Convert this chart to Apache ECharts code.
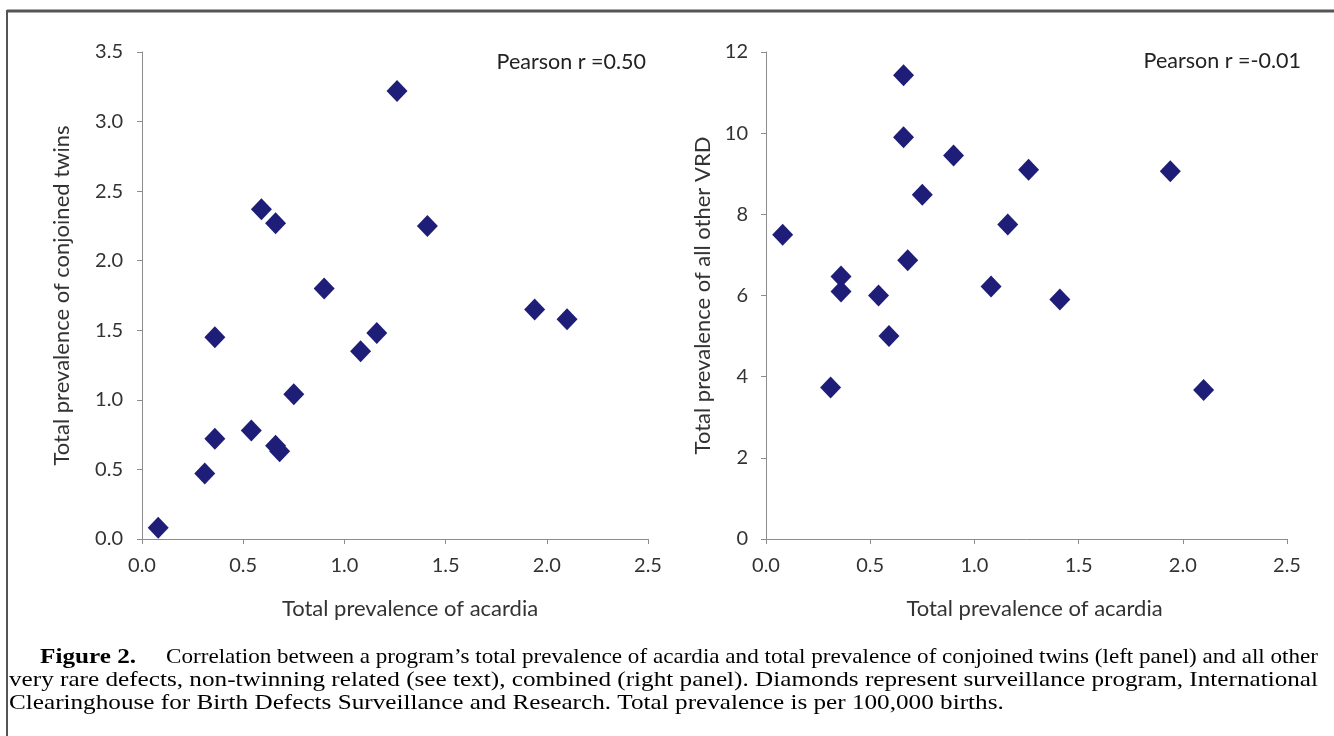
<!DOCTYPE html>
<html><head><meta charset="utf-8">
<script src="https://cdn.jsdelivr.net/npm/echarts@6/dist/echarts.min.js"></script>
<style>html,body{margin:0;padding:0;background:#fff;}#chart{width:1334px;height:736px;}</style>
</head><body><div id="chart"></div>
<script>
// ---- data ----
const acardia        = [0.08, 0.31, 0.36, 0.36, 0.54, 0.59, 0.66, 0.66, 0.68, 0.75, 0.90, 1.08, 1.16, 1.26, 1.41, 1.94, 2.10];
const conjoinedTwins = [0.08, 0.47, 0.72, 1.45, 0.78, 2.37, 2.27, 0.67, 0.63, 1.04, 1.80, 1.35, 1.48, 3.22, 2.25, 1.65, 1.58];
const otherVRD       = [7.50, 3.73, 6.10, 6.47, 6.00, 5.00, 9.90, 11.43, 6.87, 8.48, 9.45, 6.22, 7.75, 9.10, 5.90, 9.06, 3.67];
const xTickLabels      = ['0.0', '0.5', '1.0', '1.5', '2.0', '2.5'];
const yLeftTickLabels  = ['0.0', '0.5', '1.0', '1.5', '2.0', '2.5', '3.0', '3.5'];
const yRightTickLabels = ['0', '2', '4', '6', '8', '10', '12'];
const pearsonLabels = ['Pearson r =0.50', 'Pearson r =-0.01'];
const xAxisTitle = 'Total prevalence of acardia';
const yAxisTitles = ['Total prevalence of conjoined twins', 'Total prevalence of all other VRD'];
const captionBold = 'Figure 2.';
const captionLines = [
  'Correlation between a program\u2019s total prevalence of acardia and total prevalence of conjoined twins (left panel) and all other',
  'very rare defects, non-twinning related (see text), combined (right panel). Diamonds represent surveillance program, International',
  'Clearinghouse for Birth Defects Surveillance and Research. Total prevalence is per 100,000 births.'
];

// ---- helpers ----
const SANS = 'Lato, "Open Sans", sans-serif';
const SERIF = '"Liberation Serif", "Times New Roman", Times, serif';
const mctx = document.createElement('canvas').getContext('2d');
function textW(font, s) { mctx.font = font; return mctx.measureText(s).width; }

const axisColor = '#8c8c8c';
const labelColor = '#333333';
const markColor = '#1e1e78';

function xAxisCfg(gi, namePad) {
  return {
    type: 'value', gridIndex: gi, min: 0, max: 2.5, interval: 0.5,
    name: xAxisTitle, nameLocation: 'middle', nameGap: 59,
    nameTextStyle: { fontFamily: SANS, fontSize: 22, color: labelColor, padding: namePad },
    axisLine: { show: true, onZero: false, lineStyle: { color: axisColor, width: 1 } },
    axisTick: { show: true, inside: false, length: 5, lineStyle: { color: axisColor } },
    axisLabel: { margin: 17, fontFamily: SANS, fontSize: 20, color: labelColor,
      formatter: v => xTickLabels[Math.round(v / 0.5)] },
    splitLine: { show: false }
  };
}
function yAxisCfg(gi, max, interval, labels, name, gap, margin) {
  return {
    type: 'value', gridIndex: gi, min: 0, max: max, interval: interval,
    name: name, nameLocation: 'middle', nameGap: gap,
    nameTextStyle: { fontFamily: SANS, fontSize: 22, color: labelColor },
    axisLine: { show: true, lineStyle: { color: axisColor, width: 1 } },
    axisTick: { show: true, inside: false, length: 5, lineStyle: { color: axisColor } },
    axisLabel: { margin: margin, fontFamily: SANS, fontSize: 20, color: labelColor,
      formatter: v => labels[Math.round(v / interval)] },
    splitLine: { show: false }
  };
}

// ---- caption layout (justified lines) ----
const capSize = 22;
const capFont = capSize + 'px ' + SERIF;
const capBoldFont = 'bold ' + capSize + 'px ' + SERIF;
const capY = [657, 680, 703];
const leftX = 9, rightX = 1318, figX = 40, figGap = 30;
const wBold = textW(capBoldFont, captionBold);
const w0 = textW(capFont, captionLines[0]);
const w1 = textW(capFont, captionLines[1]);
const s1 = (rightX - leftX) / w1;
const sBold = s1;
const line0X = figX + wBold * sBold + figGap;
const s0 = (rightX - line0X) / w0;

function capText(x, y, s, text, font) {
  return { type: 'text', x: x, y: y, scaleX: s,
    style: { text: text, font: font, fill: '#000', textAlign: 'left', textVerticalAlign: 'middle', verticalAlign: 'middle' } };
}
const captionGraphics = [
  capText(figX, capY[0], sBold, captionBold, capBoldFont),
  capText(line0X, capY[0], s0, captionLines[0], capFont),
  capText(leftX, capY[1], s1, captionLines[1], capFont),
  capText(leftX, capY[2], s1, captionLines[2], capFont)
];

const chart = echarts.init(document.getElementById('chart'), null, { renderer: 'canvas' });
chart.setOption({
  backgroundColor: '#fff',
  animation: false,
  grid: [
    { left: 142, top: 52, width: 506, height: 487 },
    { left: 766, top: 52, width: 521, height: 487 }
  ],
  xAxis: [xAxisCfg(0, [0, 0, 0, 30]), xAxisCfg(1, [0, 0, 0, 16])],
  yAxis: [
    yAxisCfg(0, 3.5, 0.5, yLeftTickLabels, yAxisTitles[0], 69, 19),
    yAxisCfg(1, 12, 2, yRightTickLabels, yAxisTitles[1], 52, 18)
  ],
  series: [
    { type: 'scatter', xAxisIndex: 0, yAxisIndex: 0, symbol: 'diamond', symbolSize: [21, 22],
      itemStyle: { color: markColor, opacity: 1 }, data: acardia.map((x, i) => [x, conjoinedTwins[i]]) },
    { type: 'scatter', xAxisIndex: 1, yAxisIndex: 1, symbol: 'diamond', symbolSize: [21, 22],
      itemStyle: { color: markColor, opacity: 1 }, data: acardia.map((x, i) => [x, otherVRD[i]]) }
  ],
  graphic: [
    { type: 'line', shape: { x1: 7, y1: 11, x2: 1334, y2: 11 }, style: { stroke: '#555', lineWidth: 3 } },
    { type: 'line', shape: { x1: 7, y1: 10, x2: 7, y2: 736 }, style: { stroke: '#555', lineWidth: 2 } },
    { type: 'text', x: 646, y: 62,
      style: { text: pearsonLabels[0], font: '21.5px ' + SANS, fill: '#222', textAlign: 'right', textVerticalAlign: 'middle', verticalAlign: 'middle' } },
    { type: 'text', x: 1301, y: 61,
      style: { text: pearsonLabels[1], font: '21.5px ' + SANS, fill: '#222', textAlign: 'right', textVerticalAlign: 'middle', verticalAlign: 'middle' } }
  ].concat(captionGraphics)
});
</script>
</body></html>
